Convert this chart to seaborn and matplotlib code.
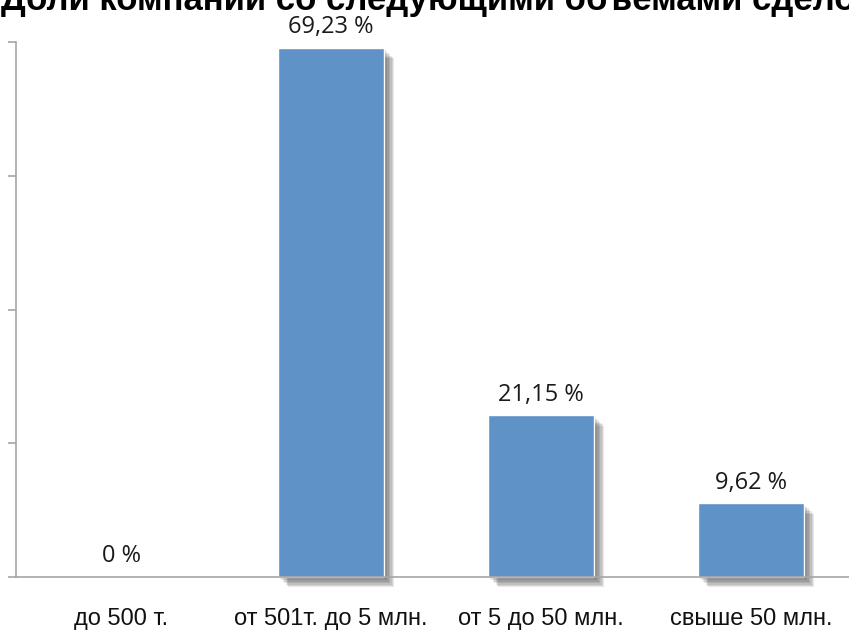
import matplotlib
matplotlib.use("Agg")
import matplotlib.pyplot as plt
import matplotlib.patheffects as pe
import seaborn as sns
import pandas as pd

categories = ["до 500 т.", "от 501т. до 5 млн.", "от 5 до 50 млн.", "свыше 50 млн."]
shares = [0.0, 69.23, 21.15, 9.62]
value_labels = ["0 %", "69,23 %", "21,15 %", "9,62 %"]
title = "Доли компаний со следующими объемами сделок"

df = pd.DataFrame({"cat": categories, "share": shares})

sns.set_style("white")
plt.rcParams["font.family"] = ["Liberation Sans", "DejaVu Sans"]

fig = plt.figure(figsize=(8.49, 6.34), dpi=100)
ax = fig.add_axes([16 / 849, 57 / 634, 840 / 849, 535 / 634])

sns.barplot(data=df, x="cat", y="share", color="#5f93c8", saturation=1,
            width=0.505, ax=ax)

# размытая тень справа-снизу (несколько полупрозрачных слоёв)
shadow = [pe.SimplePatchShadow(offset=(o, -o), shadow_rgbFace="k", alpha=0.09)
          for o in (1.5, 2.5, 3.5, 4.5, 5.5, 6.5, 7.5)]
for p in ax.patches:
    p.set_path_effects(shadow + [pe.Normal()])
    p.set_clip_on(False)

for i, (v, lab) in enumerate(zip(shares, value_labels)):
    ax.annotate(lab, (i, v), xytext=(0, 15), textcoords="offset points",
                ha="center", va="center", fontsize=17, color="#1a1a1a",
                family=["Open Sans", "DejaVu Sans"])

ax.set_xlim(-0.5, 3.5)
ax.set_ylim(0, 70)
ax.set_yticks([0, 17.5, 35, 52.5, 70])
ax.set_yticklabels([])
ax.set_xticks(range(len(categories)))
ax.set_xticklabels(categories, fontsize=17, color="#111111")
ax.set_xticks([-0.5, 0.5, 1.5, 2.5, 3.5], minor=True)
ax.tick_params(axis="x", which="major", length=0, pad=22)
ax.tick_params(axis="x", which="minor", length=5, color="#a6a6a6", width=1.2, direction="out")
ax.tick_params(axis="y", length=6, color="#a6a6a6", width=1.2, direction="out", left=True)
ax.set_xlabel("")
ax.set_ylabel("")

for s in ["top", "right"]:
    ax.spines[s].set_visible(False)
for s in ["left", "bottom"]:
    ax.spines[s].set_color("#a6a6a6")
    ax.spines[s].set_linewidth(1.2)
    ax.spines[s].set_zorder(5)

fig.text(0.515, 1.0, title, ha="center", va="center", fontsize=25,
         fontweight="bold", color="black")

fig.savefig("out.png", dpi=100)
